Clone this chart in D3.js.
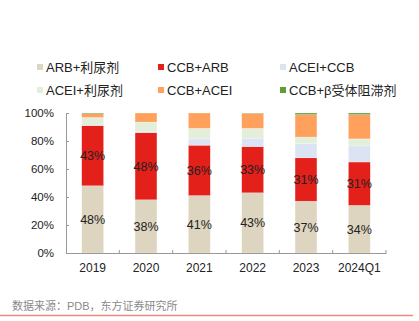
<!DOCTYPE html>
<html>
<head>
<meta charset="utf-8">
<script src="https://cdn.jsdelivr.net/npm/d3@7"></script>
<style>
body { margin: 0; background: #fff; }
text { font-family: Arial, "Liberation Sans", "Noto Sans CJK SC", sans-serif; }
</style>
</head>
<body>
<svg id="chart"></svg>
<script>
// categories and stacked shares (%)
var years = ["2019", "2020", "2021", "2022", "2023", "2024Q1"];
var seriesNames = ["ARB+利尿剂", "CCB+ARB", "ACEI+CCB", "ACEI+利尿剂", "CCB+ACEI", "CCB+β受体阻滞剂"];
var arbDiuretic = [48, 38, 41, 43, 37, 34];
var ccbArb = [43, 48, 36, 33, 31, 31];
var aceiCcb = [0.3, 1, 4.5, 6, 10, 11.5];
var aceiDiuretic = [5.5, 6.5, 7.5, 7, 4.8, 5];
var ccbAcei = [2.7, 6.5, 11, 10.7, 16, 17.3];
var ccbBeta = [0.5, 0, 0, 0.3, 1.2, 1.2];
var yTicks = [0, 20, 40, 60, 80, 100];
var colors = ["#ddd5bf", "#e3201a", "#dce3f3", "#e3efdb", "#ffa15c", "#5d9e3a"];

var width = 419, height = 321;
var margins = {left: 66, right: 33, top: 113, bottom: 68};
var graph = {
    width: width - margins.left - margins.right,
    height: height - margins.top - margins.bottom
};

var svg = d3.select("#chart")
    .attr("width", width)
    .attr("height", height);

var columns = [arbDiuretic, ccbArb, aceiCcb, aceiDiuretic, ccbAcei, ccbBeta];
var table = years.map(function(y, i) {
    var row = {year: y};
    seriesNames.forEach(function(name, k) { row[name] = columns[k][i]; });
    return row;
});

var stacked = d3.stack().keys(seriesNames)(table);

var xScale = d3.scaleBand()
    .domain(years)
    .range([0, graph.width])
    .paddingInner(0.59)
    .paddingOuter(0.295);

var yScale = d3.scaleLinear()
    .domain([0, 100])
    .range([graph.height, 0]);

var target = svg.append("g")
    .attr("transform", "translate(" + margins.left + "," + margins.top + ")");

// bars
target.selectAll("g.series")
    .data(stacked)
    .enter()
    .append("g")
    .attr("class", "series")
    .attr("fill", function(d, i) { return colors[i]; })
    .selectAll("rect")
    .data(function(d) { return d; })
    .enter()
    .append("rect")
    .attr("x", function(d) { return xScale(d.data.year); })
    .attr("y", function(d) { return yScale(d[1]); })
    .attr("width", xScale.bandwidth())
    .attr("height", function(d) { return yScale(d[0]) - yScale(d[1]); })
    .attr("stroke", "#fff")
    .attr("stroke-opacity", 0.5)
    .attr("stroke-width", 0.5);

// value labels on the two main segments
stacked.slice(0, 2).forEach(function(layer) {
    target.append("g")
        .selectAll("text")
        .data(layer)
        .enter()
        .append("text")
        .attr("x", function(d) { return xScale(d.data.year) + xScale.bandwidth() / 2; })
        .attr("y", function(d) { return yScale((d[0] + d[1]) / 2); })
        .attr("dy", "0.36em")
        .attr("text-anchor", "middle")
        .attr("font-size", "12.5px")
        .attr("fill", "#222")
        .text(function(d) { return Math.round(d[1] - d[0]) + "%"; });
});

// axes
var yAxis = d3.axisLeft(yScale)
    .tickValues(yTicks)
    .tickFormat(function(d) { return d + "%"; })
    .tickSizeInner(-3)
    .tickSizeOuter(0)
    .tickPadding(12);

var yG = target.append("g").call(yAxis);
yG.selectAll("text").attr("font-size", "11.5px").attr("fill", "#222");

var xG = target.append("g")
    .attr("transform", "translate(0," + graph.height + ")")
    .call(d3.axisBottom(xScale).tickSize(0).tickPadding(10));
xG.selectAll("text").attr("font-size", "12px").attr("fill", "#222");

// small boundary ticks between categories
var bounds = d3.range(years.length + 1).map(function(i) { return i * xScale.step(); });
xG.selectAll("line.bound")
    .data(bounds.slice(1))
    .enter()
    .append("line")
    .attr("class", "bound")
    .attr("x1", function(d) { return d; })
    .attr("x2", function(d) { return d; })
    .attr("y1", 0)
    .attr("y2", -3);

target.selectAll(".domain, .tick line, line.bound")
    .attr("stroke", "#999");

// legend
var legend = svg.append("g");
var legendCols = [37, 158, 280];
var legendRows = [67, 90];
seriesNames.forEach(function(name, i) {
    var lx = legendCols[i % 3], ly = legendRows[Math.floor(i / 3)];
    legend.append("rect")
        .attr("x", lx)
        .attr("y", ly - 3)
        .attr("width", 6)
        .attr("height", 6)
        .attr("fill", colors[i]);
    legend.append("text")
        .attr("x", lx + 9)
        .attr("y", ly)
        .attr("dy", "0.36em")
        .attr("font-size", "13px")
        .attr("fill", "#222")
        .text(name);
});

// source note and rule
svg.append("text")
    .attr("x", 12)
    .attr("y", 306)
    .attr("dy", "0.36em")
    .attr("font-size", "11px")
    .attr("fill", "#8a8a8a")
    .text("数据来源：PDB，东方证券研究所");

svg.append("line")
    .attr("x1", 0)
    .attr("x2", 413)
    .attr("y1", 315.5)
    .attr("y2", 315.5)
    .attr("stroke", "#f08a85")
    .attr("stroke-width", 1.5);
</script>
</body>
</html>
